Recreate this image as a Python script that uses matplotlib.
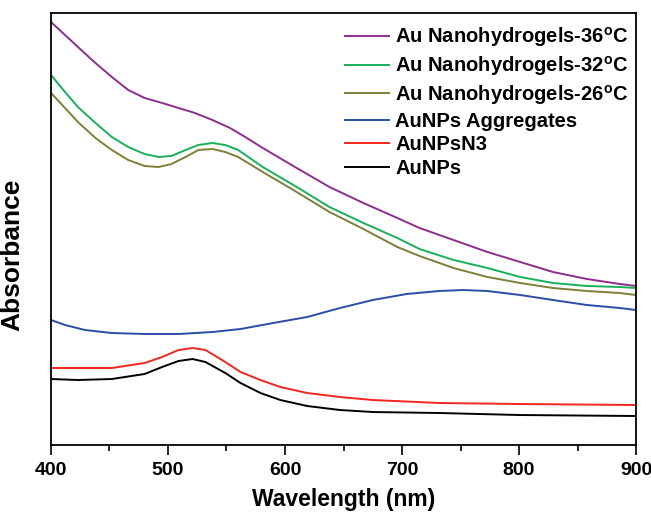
import numpy as np
import matplotlib
matplotlib.use("Agg")
import matplotlib.pyplot as plt
from matplotlib.ticker import MultipleLocator

plt.rcParams['font.family'] = ['Liberation Sans', 'DejaVu Sans']
plt.rcParams['font.weight'] = 'bold'
plt.rcParams['mathtext.default'] = 'regular'

# wavelength (nm) / absorbance (a.u.)
wl_36 = [400, 412, 423, 438, 452, 466, 480, 495, 509, 523, 538, 553, 566, 581,
         610, 638, 667, 696, 715, 744, 773, 801, 829, 858, 886, 900]
abs_36 = [4.23, 4.10, 3.98, 3.82, 3.68, 3.55, 3.47, 3.42, 3.37, 3.32, 3.25, 3.17,
          3.08, 2.97, 2.77, 2.58, 2.42, 2.27, 2.17, 2.05, 1.93, 1.83, 1.73, 1.66,
          1.61, 1.59]

wl_32 = [400, 412, 423, 438, 452, 466, 480, 492, 503, 515, 526, 538, 549, 560,
         581, 610, 638, 667, 696, 715, 744, 773, 801, 829, 858, 886, 900]
abs_32 = [3.70, 3.53, 3.38, 3.22, 3.08, 2.98, 2.91, 2.88, 2.89, 2.95, 3.00, 3.02,
          3.00, 2.95, 2.78, 2.58, 2.38, 2.22, 2.07, 1.96, 1.85, 1.77, 1.68, 1.62,
          1.59, 1.58, 1.57]

wl_26 = [400, 412, 423, 438, 452, 466, 480, 492, 503, 515, 526, 538, 549, 560,
         581, 610, 638, 667, 696, 715, 744, 773, 801, 829, 858, 886, 900]
abs_26 = [3.52, 3.37, 3.23, 3.07, 2.95, 2.85, 2.79, 2.78, 2.81, 2.88, 2.95, 2.96,
          2.93, 2.88, 2.73, 2.53, 2.33, 2.16, 1.98, 1.89, 1.77, 1.68, 1.62, 1.57,
          1.54, 1.52, 1.50]

wl_agg = [400, 412, 429, 452, 480, 509, 538, 562, 590, 619, 647, 675, 704, 732,
          752, 773, 801, 829, 858, 886, 900]
abs_agg = [1.25, 1.20, 1.15, 1.12, 1.11, 1.11, 1.13, 1.16, 1.22, 1.28, 1.37, 1.45,
           1.51, 1.54, 1.55, 1.54, 1.50, 1.45, 1.40, 1.37, 1.35]

wl_n3 = [400, 423, 452, 480, 495, 509, 521, 532, 549, 562, 579, 596, 619, 647,
         675, 732, 800, 900]
abs_n3 = [0.77, 0.77, 0.77, 0.82, 0.88, 0.95, 0.97, 0.95, 0.83, 0.73, 0.65, 0.58,
          0.52, 0.48, 0.45, 0.42, 0.41, 0.40]

wl_np = [400, 423, 452, 480, 495, 509, 521, 532, 549, 562, 579, 596, 619, 647,
         675, 732, 800, 900]
abs_np = [0.66, 0.65, 0.66, 0.71, 0.78, 0.84, 0.86, 0.83, 0.72, 0.62, 0.52, 0.45,
          0.39, 0.35, 0.33, 0.32, 0.30, 0.29]

series = [
    (wl_36, abs_36, '#8E2C8F', r'Au Nanohydrogels-36$^{o}$C'),
    (wl_32, abs_32, '#16B15A', r'Au Nanohydrogels-32$^{o}$C'),
    (wl_26, abs_26, '#7F7F36', r'Au Nanohydrogels-26$^{o}$C'),
    (wl_agg, abs_agg, '#2B4DA8', 'AuNPs Aggregates'),
    (wl_n3, abs_n3, '#F2261E', 'AuNPsN3'),
    (wl_np, abs_np, '#000000', 'AuNPs'),
]

fig = plt.figure(figsize=(6.51, 5.15), dpi=100)
ax = fig.add_axes([0.0783, 0.1359, 0.8987, 0.8389])

for x, y, c, lab in series:
    ax.plot(x, y, color=c, lw=1.4, label=lab)

ax.set_xlim(400, 900)
ax.set_ylim(0, 4.32)
ax.xaxis.set_major_locator(MultipleLocator(100))
ax.xaxis.set_minor_locator(MultipleLocator(50))
ax.set_yticks([])
ax.tick_params(axis='x', which='major', direction='out', length=7, width=1.2,
               labelsize=14, pad=5)
ax.tick_params(axis='x', which='minor', direction='out', length=4, width=1.2)
for s in ax.spines.values():
    s.set_linewidth(1.3)

ax.set_xlabel('Wavelength (nm)', fontsize=16.5, fontweight='bold', labelpad=7)
ax.set_ylabel('Absorbance', fontsize=19, fontweight='bold')
ax.yaxis.set_label_coords(-0.046, 0.44)

leg = ax.legend(loc='upper right', bbox_to_anchor=(1.008, 1.0), frameon=False,
                fontsize=14.5, handlelength=2.2, handletextpad=0.3,
                labelspacing=0.24, borderaxespad=0.2)

fig.savefig('out.png', dpi=100)
